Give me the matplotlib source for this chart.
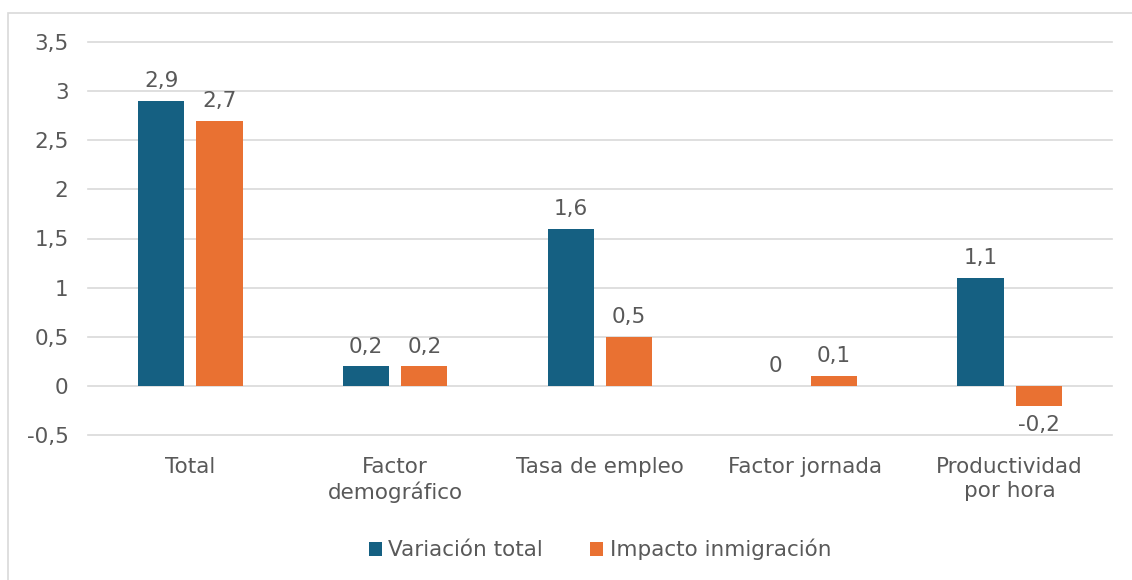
import matplotlib.pyplot as plt
import numpy as np
from matplotlib.patches import Rectangle
from matplotlib.ticker import FixedLocator

categorias = ['Total', 'Factor\ndemográfico', 'Tasa de empleo', 'Factor jornada', 'Productividad\npor hora']
variacion_total = [2.9, 0.2, 1.6, 0.0, 1.1]
impacto_inmigracion = [2.7, 0.2, 0.5, 0.1, -0.2]
series = ['Variación total', 'Impacto inmigración']
yticks = [-0.5, 0, 0.5, 1, 1.5, 2, 2.5, 3, 3.5]

azul = '#156082'
naranja = '#E97132'
gris = '#595959'
fs = 15.5

plt.rcParams['font.family'] = ['DejaVu Sans']


def coma(v):
    s = ('%g' % v).replace('.', ',')
    return s


fig = plt.figure(figsize=(11.32, 5.8), dpi=100)
ax = fig.add_axes([88 / 1132, 1 - 435 / 580, 1024 / 1132, 393 / 580])

# borde exterior
fig.patches.append(Rectangle((8 / 1132, -0.01), 1.1, 1 - 13 / 580 + 0.01,
                             transform=fig.transFigure, fill=False,
                             edgecolor='#D9D9D9', linewidth=1.2))

x = np.arange(len(categorias))
w = 0.225
off = 0.142
b1 = ax.bar(x - off, variacion_total, w, color=azul, label=series[0], zorder=3)
b2 = ax.bar(x + off, impacto_inmigracion, w, color=naranja, label=series[1], zorder=3)

for bars, vals in [(b1, variacion_total), (b2, impacto_inmigracion)]:
    for r, v in zip(bars, vals):
        cx = r.get_x() + r.get_width() / 2
        if v >= 0:
            ax.annotate(coma(v), (cx, v), xytext=(0, 7), textcoords='offset points',
                        ha='center', va='bottom', fontsize=fs, color=gris)
        else:
            ax.annotate(coma(v), (cx, v), xytext=(0, -7), textcoords='offset points',
                        ha='center', va='top', fontsize=fs, color=gris)

ax.set_xlim(-0.5, len(categorias) - 0.5)
ax.set_ylim(-0.5, 3.5)
ax.yaxis.set_major_locator(FixedLocator(yticks))
ax.set_yticklabels([coma(t) for t in yticks])
ax.set_xticks(x)
ax.set_xticklabels(categorias, linespacing=1.25)
ax.tick_params(axis='both', length=0, labelsize=fs, colors=gris)
ax.tick_params(axis='y', pad=14)
ax.tick_params(axis='x', pad=16)
ax.grid(axis='y', color='#D9D9D9', linewidth=1.2, zorder=0)
for gl in ax.get_ygridlines():
    gl.set_clip_on(False)
for s in ax.spines.values():
    s.set_visible(False)

ax.legend(loc='upper center', bbox_to_anchor=(0.5, -0.215), ncol=2, frameon=False,
          fontsize=fs, labelcolor=gris, handlelength=0.6, handleheight=0.6,
          handletextpad=0.3, columnspacing=2.2)

fig.savefig('out.png', dpi=100)
